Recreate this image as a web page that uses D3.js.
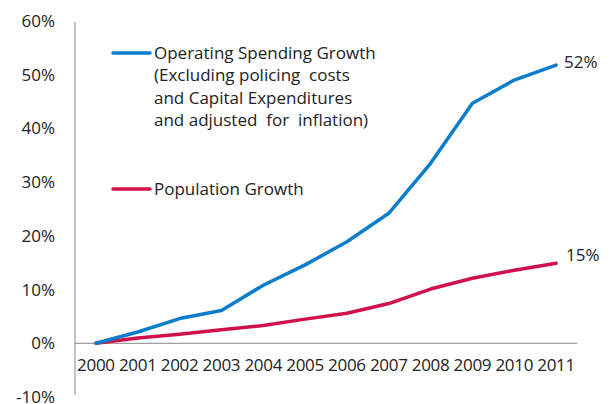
<!DOCTYPE html>
<html>
<head>
<meta charset="utf-8">
<script src="https://cdn.jsdelivr.net/npm/d3@7"></script>
<style>
  body { margin: 0; background: #fff; }
  text { font-family: "Open Sans", "Noto Sans", sans-serif; fill: #222; }
</style>
</head>
<body>
<div id="chart"></div>
<script>
var years = ['2000', '2001', '2002', '2003', '2004', '2005', '2006', '2007', '2008', '2009', '2010', '2011'];
var spending = [0, 2.1, 4.6, 6.1, 10.8, 14.6, 18.9, 24.2, 33.5, 44.7, 49.0, 51.8];
var population = [0, 1.0, 1.7, 2.5, 3.3, 4.5, 5.6, 7.4, 10.1, 12.1, 13.6, 14.9];
var yTicks = [-10, 0, 10, 20, 30, 40, 50, 60];
var endLabels = ['52%', '15%'];
var legendSpending = ['Operating Spending Growth', '(Excluding policing  costs', 'and Capital Expenditures', 'and adjusted  for  inflation)'];
var legendPopulation = ['Population Growth'];

var width = 616, height = 404;
var svg = d3.select('#chart').append('svg')
    .attr('width', width)
    .attr('height', height);

var x = d3.scalePoint().domain(years).range([75, 577]).padding(0.5);
var y = d3.scaleLinear().domain([-10, 60]).range([397, 21]);

// y axis line and labels
svg.append('line')
    .attr('x1', 75).attr('x2', 75)
    .attr('y1', 22).attr('y2', 395)
    .attr('stroke', '#888').attr('stroke-width', 1);

svg.selectAll('text.ytick')
    .data(yTicks)
    .enter()
    .append('text')
    .attr('class', 'ytick')
    .attr('x', 55)
    .attr('y', function (d) { return y(d); })
    .attr('dy', '0.35em')
    .attr('text-anchor', 'end')
    .attr('font-size', 17)
    .text(function (d) { return d + '%'; });

// zero baseline
svg.append('line')
    .attr('x1', 75).attr('x2', 577)
    .attr('y1', y(0)).attr('y2', y(0))
    .attr('stroke', '#888').attr('stroke-width', 1);

svg.selectAll('text.xtick')
    .data(years)
    .enter()
    .append('text')
    .attr('class', 'xtick')
    .attr('x', function (d) { return x(d); })
    .attr('y', 365)
    .attr('dy', '0.35em')
    .attr('text-anchor', 'middle')
    .attr('font-size', 17)
    .attr('letter-spacing', -0.3)
    .text(function (d) { return d; });

var line = d3.line()
    .x(function (d, i) { return x(years[i]); })
    .y(function (d) { return y(d); });

svg.append('path')
    .attr('fill', 'none')
    .attr('stroke', '#d1114a')
    .attr('stroke-width', 3.5)
    .attr('stroke-linecap', 'round')
    .attr('stroke-linejoin', 'round')
    .attr('d', line(population));

svg.append('path')
    .attr('fill', 'none')
    .attr('stroke', '#0a7dcd')
    .attr('stroke-width', 3.5)
    .attr('stroke-linecap', 'round')
    .attr('stroke-linejoin', 'round')
    .attr('d', line(spending));

// end labels
svg.append('text')
    .attr('x', 564).attr('y', y(spending[11]) - 3)
    .attr('dy', '0.35em')
    .attr('font-size', 17)
    .text(endLabels[0]);
svg.append('text')
    .attr('x', 566).attr('y', y(population[11]) - 8)
    .attr('dy', '0.35em')
    .attr('font-size', 17)
    .text(endLabels[1]);

// legend
var legend = svg.append('g');
legend.append('line')
    .attr('x1', 113).attr('x2', 150)
    .attr('y1', 53).attr('y2', 53)
    .attr('stroke', '#0a7dcd').attr('stroke-width', 3.5)
    .attr('stroke-linecap', 'round');
legend.selectAll('text.leg1')
    .data(legendSpending)
    .enter()
    .append('text')
    .attr('class', 'leg1')
    .attr('x', 154)
    .attr('y', function (d, i) { return 53 + i * 22.5; })
    .attr('dy', '0.35em')
    .attr('font-size', 17)
    .style('white-space', 'pre')
    .text(function (d) { return d; });

legend.append('line')
    .attr('x1', 113).attr('x2', 150)
    .attr('y1', 189).attr('y2', 189)
    .attr('stroke', '#d1114a').attr('stroke-width', 3.5)
    .attr('stroke-linecap', 'round');
legend.selectAll('text.leg2')
    .data(legendPopulation)
    .enter()
    .append('text')
    .attr('class', 'leg2')
    .attr('x', 154)
    .attr('y', 189)
    .attr('dy', '0.35em')
    .attr('font-size', 17)
    .text(function (d) { return d; });
</script>
</body>
</html>
